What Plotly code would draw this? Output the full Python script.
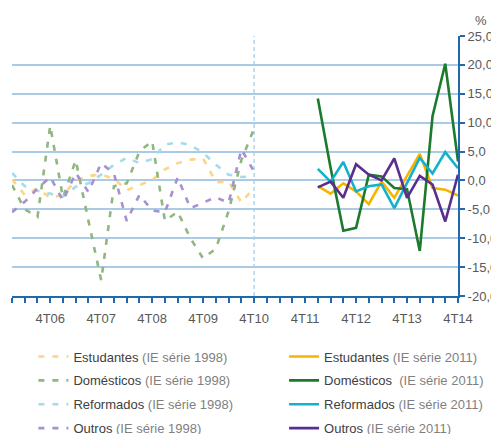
import plotly.graph_objects as go

# ---- data ----
years = ["06", "07", "08", "09", "10", "11", "12", "13", "14"]
quarters = [f"{q}T{y}" for y in years for q in (1, 2, 3, 4)]
q98 = quarters[:20]            # 1T06 .. 4T10
q11 = quarters[24:]            # 1T12 .. 4T14

est98 = [0.2, -2.5, -1.4, -3.0, -2.5, 0.0, 0.8, 1.0, 0.3, -1.7, -0.8, 0.1,
         1.9, 3.0, 3.6, 3.8, -0.3, -0.2, -3.8, -1.2]
dom98 = [-0.8, -5.0, -6.3, 9.5, -3.0, 3.5, -7.0, -17.3, -1.0, -0.5, 5.0, 6.8,
         -7.0, -5.4, -10.0, -13.5, -11.8, -5.3, 3.5, 9.0]
ref98 = [1.3, -1.0, -1.8, -2.3, -2.8, -1.1, -0.5, 1.0, 2.7, 3.9, 3.0, 3.7,
         6.2, 6.6, 6.1, 4.8, 2.7, 1.0, 0.6, 0.7]
out98 = [-5.5, -3.7, -1.4, 0.6, -3.5, 1.3, -2.0, 3.0, 1.2, -7.0, -2.5, -5.2,
         -5.5, 0.5, -4.8, -3.9, -2.9, -3.9, 5.4, 1.5]

est11 = [-1.0, -2.3, -0.5, -1.9, -4.1, -0.2, -3.0, 0.7, 4.6, -1.3, -1.6, -2.6]
dom11 = [14.2, 2.2, -8.7, -8.2, 1.0, 0.7, -1.3, -1.5, -12.2, 11.1, 20.2, 3.3]
ref11 = [2.0, -0.2, 3.2, -1.9, -1.0, -0.7, -4.8, -0.4, 3.9, 1.2, 4.9, 2.1]
out11 = [-1.2, -0.2, -3.0, 2.8, 1.0, 0.0, 3.8, -3.0, 0.8, -0.7, -7.1, 1.0]

xtick_text = [q if q.startswith("4T") else "" for q in quarters]
yvals = [-20, -15, -10, -5, 0, 5, 10, 15, 20, 25]
ytext = ["-20,0", "-15,0", "-10,0", "-5,0", "0,0", "5,0", "10,0", "15,0", "20,0", "25,0"]

names98 = ["Estudantes", "Domésticos", "Reformados", "Outros"]
names11 = ["Estudantes", "Domésticos ", "Reformados", "Outros"]
col98 = ["#fdd488", "#8fb77f", "#a6dbec", "#a88fd0"]
col11 = ["#f5b400", "#1b7a2c", "#14b1cc", "#5a2e8f"]

DARK = "#404040"
LIGHT = "#7f7f7f"

fig = go.Figure()

for i, (nm, vals) in enumerate(zip(names98, [est98, dom98, ref98, out98])):
    fig.add_trace(go.Scatter(
        x=q98, y=vals, mode="lines",
        line=dict(color=col98[i], width=2.6, dash="6px,8px"),
        name=f"<span style='color:{DARK}'>{nm}</span> (IE série 1998)",
        legend="legend", legendgroup=f"a{i}", legendrank=i + 1,
    ))

for i, (nm, vals) in enumerate(zip(names11, [est11, dom11, ref11, out11])):
    fig.add_trace(go.Scatter(
        x=q11, y=vals, mode="lines",
        line=dict(color=col11[i], width=2.6),
        name=f"<span style='color:{DARK}'>{nm}</span> (IE série 2011)",
        legend="legend2", legendgroup=f"b{i}", legendrank=i + 1,
    ))

AX = "#1f6aae"
GRID = "#aacbe6"

fig.add_shape(type="line", xref="x", yref="y", x0="4T10", x1="4T10", y0=-20, y1=25,
              line=dict(color="#9cc8ea", width=1.2, dash="4px,3px"), layer="below")

# the page body has an 8px margin, so the figure is made 8px smaller and
# its left/top margins reduced by 8px to land on the reference pixels
fig.update_layout(
    width=491, height=426,
    margin=dict(l=4, r=41, t=28, b=137.5, autoexpand=False),
    paper_bgcolor="white", plot_bgcolor="white",
    font=dict(family="Liberation Sans, Arial, sans-serif", size=13, color="#595959"),
    showlegend=True,
    xaxis=dict(
        type="category", categoryorder="array", categoryarray=quarters,
        range=[0, len(quarters) - 1],
        tickmode="array", tickvals=quarters, ticktext=xtick_text,
        showgrid=False, zeroline=False, automargin=False,
        showline=True, linecolor=AX, linewidth=2,
        ticks="outside", ticklen=5, tickwidth=2, tickcolor=AX,
        ticklabelstandoff=4,
        tickfont=dict(size=13, color="#595959"),
    ),
    yaxis=dict(
        side="right", range=[-20, 25], automargin=False,
        tickmode="array", tickvals=yvals, ticktext=ytext,
        showgrid=True, gridcolor=GRID, gridwidth=1.5,
        zeroline=False,
        showline=True, linecolor=AX, linewidth=2,
        ticks="outside", ticklen=5, tickwidth=2, tickcolor=AX,
        ticklabelstandoff=0,
        tickfont=dict(size=13, color="#595959"),
    ),
    legend=dict(
        x=0.048, y=-0.175, xanchor="left", yanchor="top",
        orientation="v", traceorder="grouped", tracegroupgap=4,
        font=dict(size=13, color=LIGHT), itemwidth=30,
        bgcolor="rgba(0,0,0,0)",
    ),
    legend2=dict(
        x=0.61, y=-0.175, xanchor="left", yanchor="top",
        orientation="v", traceorder="grouped", tracegroupgap=4,
        font=dict(size=13, color=LIGHT), itemwidth=30,
        bgcolor="rgba(0,0,0,0)",
    ),
    annotations=[dict(
        text="%", xref="paper", yref="paper", x=1.0516, y=1.061,
        xanchor="center", yanchor="middle", showarrow=False,
        font=dict(size=13, color="#595959"),
    )],
)

fig.write_html("out.html")
